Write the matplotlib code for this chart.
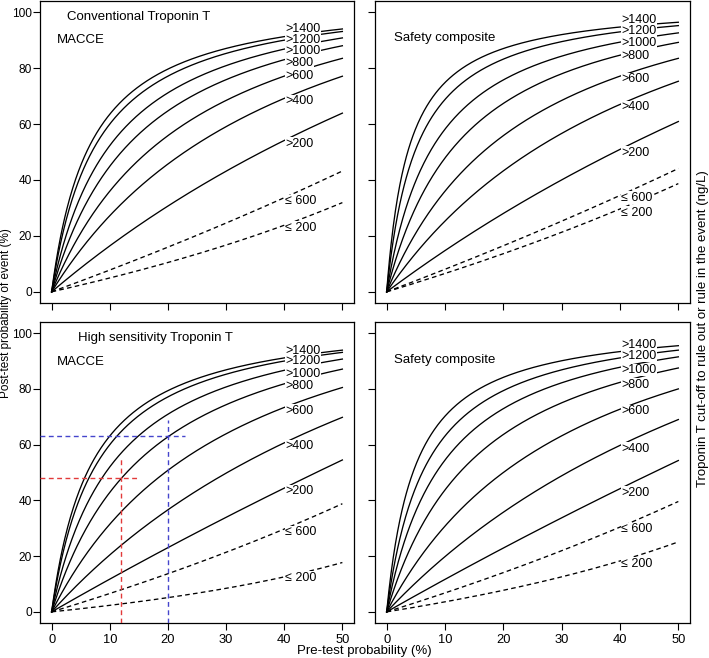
import numpy as np
import matplotlib
matplotlib.use("Agg")
import matplotlib.pyplot as plt

plt.rcParams['font.family'] = ['Liberation Sans', 'DejaVu Sans']

# curve labels (troponin T cut-offs, ng/L)
cutoffs = ['>1400', '>1200', '>1000', '>800', '>600', '>400', '>200', '\u2264 600', '\u2264 200']
dashed = [False] * 7 + [True] * 2

# post-test probability (%) read at pre-test probability = 50 %
end_tl = [94.0, 93.1, 90.8, 88.0, 83.5, 77.1, 63.9, 43.2, 31.9]
end_tr = [96.4, 95.2, 92.6, 89.2, 83.5, 75.3, 60.9, 44.1, 38.7]
end_bl = [93.9, 93.1, 90.7, 87.1, 80.5, 69.8, 54.5, 38.8, 17.7]
end_br = [95.5, 93.9, 91.5, 87.5, 80.0, 69.0, 54.3, 39.6, 25.1]

# height of each curve label (%)
lab_tl = [94.0, 90.1, 86.0, 81.8, 77.3, 68.1, 53.0, 32.5, 22.9]
lab_tr = [97.3, 93.4, 89.0, 84.5, 76.1, 66.0, 49.8, 33.7, 28.3]
lab_bl = [93.7, 89.9, 85.3, 80.9, 72.2, 59.4, 43.3, 28.6, 12.3]
lab_br = [95.8, 91.9, 86.8, 81.5, 72.0, 58.5, 42.7, 29.6, 17.3]

# worked examples in the high sensitivity MACCE panel (pre-test, post-test)
red_example = (12, 48)
blue_example = (20, 63)

W, H = 709, 658
fig = plt.figure(figsize=(W / 100, H / 100), dpi=100)


def px_axes(l, t, r, b):
    return fig.add_axes([l / W, 1 - b / H, (r - l) / W, (b - t) / H])


def post_test(pre, end50):
    # Bayes: likelihood ratio from the end value at 50 % pre-test
    lr = end50 / (100 - end50)
    odds = lr * pre / (100 - pre)
    return 100 * odds / (1 + odds)


def panel(ax, ends, labs, title_lines, xlabels, ylabels):
    pre = np.linspace(0, 50, 400)
    for end, dsh in zip(ends, dashed):
        ls = (0, (3.5, 2.5)) if dsh else '-'
        ax.plot(pre, post_test(pre, end), color='black', lw=0.95, ls=ls, zorder=2)
    for name, y in zip(cutoffs, labs):
        # white patch first so boxes never hide the neighbouring label
        ax.text(40.2, y, name, fontsize=9, ha='left', va='center', color='white',
                bbox=dict(facecolor='white', edgecolor='none', pad=0.3), zorder=3)
    for name, y in zip(cutoffs, labs):
        ax.text(40.2, y, name, fontsize=9, ha='left', va='center', zorder=4)
    for (x, y, s) in title_lines:
        ax.text(x, y, s, fontsize=9.5, ha='left', va='center')
    ax.set_xlim(-2, 52)
    ax.set_ylim(-4, 104)
    ax.set_xticks([0, 10, 20, 30, 40, 50])
    ax.set_yticks([0, 20, 40, 60, 80, 100])
    ax.tick_params(length=5, width=0.8, labelsize=8.6, pad=1,
                   labelbottom=xlabels, labelleft=ylabels)
    ax.tick_params(axis='x', labelsize=9.3, pad=3)
    for s in ax.spines.values():
        s.set_linewidth(0.9)


ax_tl = px_axes(40, 1, 354, 303)
ax_tr = px_axes(375, 1, 690, 303)
ax_bl = px_axes(40, 322, 354, 623)
ax_br = px_axes(375, 322, 690, 623)

panel(ax_tl, end_tl, lab_tl,
      [(2.65, 98.3, 'Conventional Troponin T'), (0.9, 90.0, 'MACCE')], False, True)
panel(ax_tr, end_tr, lab_tr, [(1.3, 90.8, 'Safety composite')], False, False)
panel(ax_bl, end_bl, lab_bl,
      [(4.5, 98.3, 'High sensitivity Troponin T'), (0.9, 89.8, 'MACCE')], True, True)
panel(ax_br, end_br, lab_br, [(1.3, 90.4, 'Safety composite')], True, False)

# example read-offs
for (px, py), col, xr, yt in [(red_example, '#e23a3a', 15, 55), (blue_example, '#4545cc', 23, 69)]:
    ax_bl.plot([px, px], [-4, yt], color=col, lw=1.0, ls=(0, (3.5, 2.5)), zorder=5)
    ax_bl.plot([-2, xr], [py, py], color=col, lw=1.0, ls=(0, (3.5, 2.5)), zorder=5)

fig.text(0.514, 0.0106, 'Pre-test probability (%)', fontsize=9.5, ha='center', va='center')
fig.text(0.009, 0.524, 'Post-test probability of event (%)', fontsize=8.5,
         ha='center', va='center', rotation=90)
fig.text(0.991, 0.5, 'Troponin T cut-off to rule out or rule in the event (ng/L)',
         fontsize=9.5, ha='center', va='center', rotation=90)

fig.savefig('out.png', dpi=100)
